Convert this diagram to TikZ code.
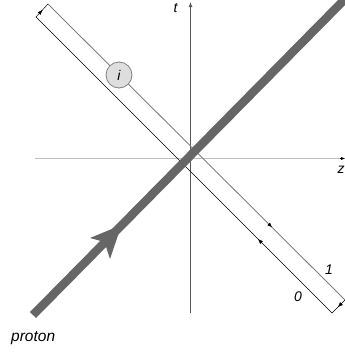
\documentclass[tikz,border=0pt]{standalone}
\usepackage{fontspec}
\setmainfont{Liberation Sans}
\usetikzlibrary{arrows.meta,decorations.markings}
\begin{document}
\begin{tikzpicture}[x=1pt,y=-1pt,
  lbl/.style={font=\fontsize{14}{14}\selectfont\itshape, inner sep=0pt},
  axisv/.style={draw=black!65, line width=0.9pt, -{Latex[length=5pt,width=4pt]}},
  axish/.style={draw=black!25, line width=1.2pt},
  upline/.style={draw=black!50, line width=0.9pt},
  loline/.style={draw=black, line width=0.5pt},
  midarrow/.style={postaction={decorate}, decoration={markings,
     mark=at position #1 with {\arrow[black]{Latex[length=5pt,width=4pt]}}}},
  proton/.style={draw=black!60, line width=8.5pt}
]
\useasboundingbox (0,0) rectangle (345,354);
% axes
\coordinate (tb) at (190.5,313);
\coordinate (tt) at (190.5,2);
\coordinate (zl) at (35,158.5);
\coordinate (zr) at (345,158.5);
\draw[axish] (zl) -- (342,158.5);
\draw[black, line width=0.3pt, -{Latex[length=4pt,width=3pt]}] (340,158.5) -- (zr);
\draw[axisv] (tb) -- (tt);
\node[lbl] (tlab) at (175.5,8) {t};
\node[lbl] (zlab) at (341,170) {z};
% strip loop
\coordinate (A) at (48,4);
\coordinate (B) at (345,300);
\coordinate (C) at (332,313);
\coordinate (D) at (36,17);
\draw[upline, midarrow=0.755] (A) -- (B);
\draw[loline, midarrow=0.55] (B) -- (C);
\draw[loline, midarrow=0.25] (C) -- (D);
\draw[loline, midarrow=0.55] (D) -- (A);
\node[circle, draw=black!50, fill=black!13, line width=0.8pt, minimum size=26pt, inner sep=0pt,
      font=\fontsize{14}{14}\selectfont\itshape] (i) at (119,75) {i};
\node[lbl] (one) at (329,270) {1};
\node[lbl] (zero) at (298,297) {0};
% proton
\coordinate (p0) at (33,315);
\coordinate (p1) at (348,-4);
\draw[proton] (p0) -- (p1);
\fill[black!60] (121.5,225) -- (110,259) -- (104.5,242) -- (90,238) -- cycle;
\node[lbl, anchor=west, font=\fontsize{15.5}{15.5}\selectfont\itshape] (plab) at (11,338) {proton};
\end{tikzpicture}
\end{document}
